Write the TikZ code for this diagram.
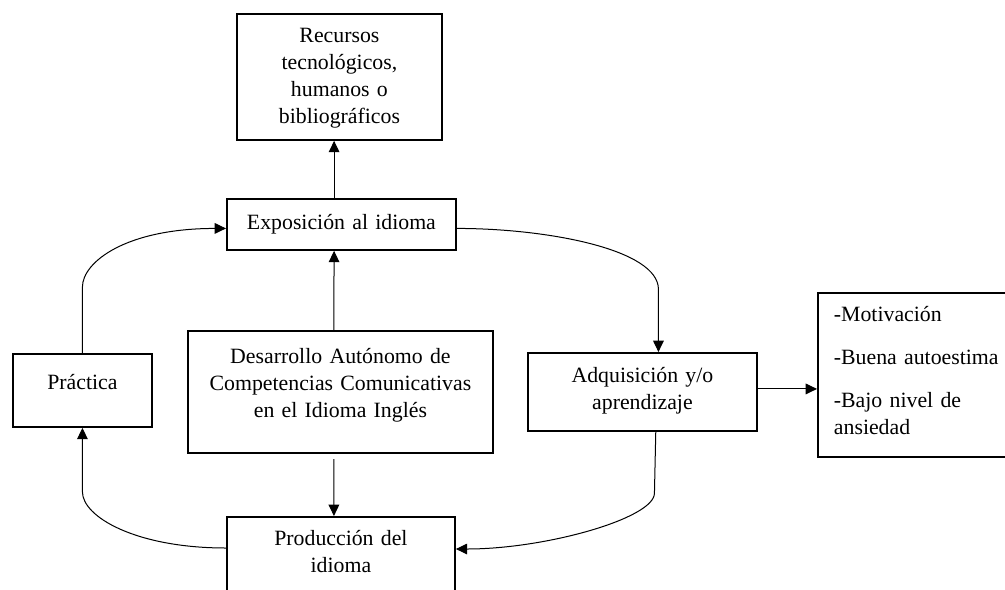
\documentclass[tikz,border=0pt]{standalone}
\usepackage{fontspec}
\setmainfont{Liberation Serif}
\usetikzlibrary{arrows.meta}

\begin{document}
\begin{tikzpicture}[x=0.75pt,y=-0.75pt,>={Triangle[length=8.5pt,width=8pt]}] %% mapa del idioma
	\tikzstyle{caja}=[rectangle,draw,line width=1.4pt,inner sep=0pt,anchor=north west,align=center,font=\fontsize{16.35pt}{20.25pt}\selectfont];
	\tikzstyle{flecha}=[->,line width=0.75pt];
	\useasboundingbox (0,0) rectangle (1005,589);
	\node[caja,text width=153.75pt,text height=21.75pt,text depth=72.75pt] (rec) at (236,13) {Recursos\\tecnológicos,\\humanos o\\bibliográficos};
	\node[caja,text width=171.75pt,text height=23.25pt,text depth=15pt] (expo) at (226,198) {Exposición al idioma};
	\node[caja,text width=228.75pt,text height=24.75pt,text depth=66.75pt] (desa) at (187,330) {Desarrollo Autónomo de\\Competencias Comunicativas\\en el Idioma Inglés};
	\node[caja,text width=104.25pt,text height=27pt,text depth=27.75pt] (prac) at (12,353) {Práctica};
	\node[caja,text width=171.75pt,text height=22.5pt,text depth=36pt] (adq) at (527,352) {Adquisición y/o\\aprendizaje};
	\node[caja,align=left,inner xsep=12pt,text width=128.25pt,text height=21.75pt,text depth=101.25pt] (mot) at (817,292) {-Motivación\\[12pt]-Buena autoestima\\[12pt]-Bajo nivel de\\ansiedad};
	\node[caja,text width=171pt,text height=21.75pt,text depth=60pt] (prod) at (226,516) {Producción del\\idioma};
	\draw[flecha] ([xshift=-5.5pt]expo.north) -- ([xshift=-4pt]rec.south);
	\draw[flecha] ([xshift=-5pt]desa.north) -- ([xshift=-5.5pt]expo.south);
	\draw[flecha,shorten <=4pt] ([xshift=-5pt]desa.south) -- ([xshift=-5.25pt]prod.north);
	\draw[flecha] ([yshift=2.25pt]adq.east) -- ([yshift=-10.5pt]mot.west);
	\draw[flecha] (prac.north) -- ++(0,-66)
		.. controls +(0,-25) and +(-100,0) .. ([yshift=-3pt]expo.west);
	\draw[flecha] ([yshift=-3pt]expo.east)
		.. controls +(90,0) and +(0,-40) .. ([xshift=12pt,yshift=47pt]adq.north)
		-- ([xshift=12pt]adq.north);
	\draw[flecha] ([xshift=10pt]adq.south) -- ([xshift=9pt,yshift=-46pt]adq.south)
		.. controls +(0,25) and +(90,0) .. ([yshift=-24.75pt]prod.north east);
	\draw[flecha] ([yshift=-24pt]prod.north west)
		.. controls +(-90,0) and +(0,25) .. ([yshift=-48pt]prac.south)
		-- (prac.south);
\end{tikzpicture}
\end{document}
